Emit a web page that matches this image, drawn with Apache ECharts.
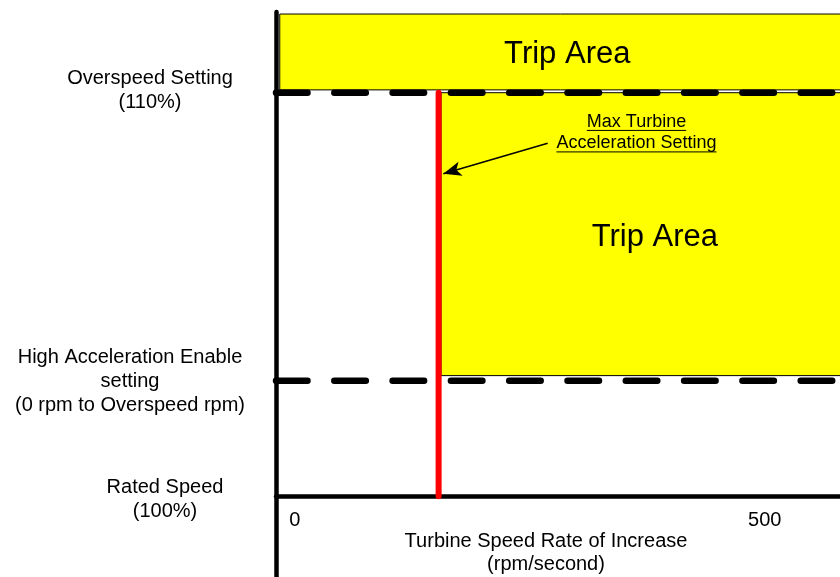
<!DOCTYPE html>
<html><head><meta charset="utf-8">
<script src="https://cdn.jsdelivr.net/npm/echarts@6/dist/echarts.min.js"></script>
<style>html,body{margin:0;padding:0;background:#fff}#c{width:840px;height:577px}</style>
</head><body><div id="c"></div>
<script>
const FONT = '"Liberation Sans", Arial, Helvetica, sans-serif';

// x: turbine speed rate of increase (rpm/second); y: speed above rated speed (%)
const xRange = [-20, 580];
const yRange = [-2, 12];
const xTickValues = [0, 500];
const speedLevelNames = ['Overspeed Setting\n(110%)', 'High Acceleration Enable\nsetting\n(0 rpm to Overspeed rpm)', 'Rated Speed\n(100%)'];
const speedLevelValues = [10, 2.86, 0];
const dashedLevelValues = [10, 2.86];
const maxAccelSetting = 153;
const tripAreaNames = ['Trip Area', 'Trip Area'];
const tripAreaX = [[-16, 600], [155.5, 600]];
const tripAreaY = [[10.07, 11.95], [2.99, 10]];
const annotationLines = ['Max Turbine', 'Acceleration Setting'];
const annotationAnchor = [363.5, 9.01];
const arrowFrom = [269, 8.75];
const arrowTo = [158, 7.99];

// layout / label placement (styles)
const GRID = {left: 276, right: 0, top: 12, bottom: 0};
const CHART_H = 577;
const levelLabelOffsets = [[-126, -2], [-146, 0.5], [-111, 3.5]];
const tripLabelOffsets = [[-2, 2], [5, 3]];

const measureCtx = document.createElement('canvas').getContext('2d');
function textWidth(t, size) { measureCtx.font = size + 'px ' + FONT; return measureCtx.measureText(t).width; }

const chart = echarts.init(document.getElementById('c'), null, {renderer: 'canvas'});

const gridH = CHART_H - GRID.top - GRID.bottom;
const zeroAxisOffset = -(0 - yRange[0]) / (yRange[1] - yRange[0]) * gridH;

const series = [];

series.push({
  type: 'custom', z: 1, silent: true,
  data: tripAreaX.map((xr, i) => [xr[0], xr[1], tripAreaY[i][0], tripAreaY[i][1]]),
  renderItem: (params, api) => {
    const i = params.dataIndex;
    const p0 = api.coord([api.value(0), api.value(3)]);
    const p1 = api.coord([api.value(1), api.value(2)]);
    const cx = (p0[0] + p1[0]) / 2 + tripLabelOffsets[i][0];
    const cy = (p0[1] + p1[1]) / 2 + tripLabelOffsets[i][1];
    return {
      type: 'group',
      children: [
        {type: 'rect', shape: {x: p0[0], y: p0[1], width: p1[0] - p0[0], height: p1[1] - p0[1]},
          style: {fill: '#ffff00', stroke: '#000', lineWidth: 1}},
        {type: 'text', style: {text: tripAreaNames[i], x: cx, y: cy, fontSize: 31, fontFamily: FONT, fill: '#000', align: 'center', verticalAlign: 'middle'}}
      ]
    };
  }
});

dashedLevelValues.forEach(v => {
  series.push({
    type: 'line', z: 3, silent: true, symbol: 'none',
    data: [[xRange[0], v], [xRange[1], v]],
    lineStyle: {color: '#000', width: 6.5, type: [31.5, 26.8], cap: 'round'}
  });
});

series.push({
  type: 'line', z: 4, silent: true, symbol: 'none',
  data: [[maxAccelSetting, speedLevelValues[0]], [maxAccelSetting, speedLevelValues[2]]],
  lineStyle: {color: '#ff0000', width: 6, cap: 'round'},
  markLine: {
    silent: true, symbol: ['none', 'arrow'], symbolSize: [11, 18],
    lineStyle: {color: '#000', width: 1.5, type: 'solid'},
    label: {show: false},
    data: [[{coord: arrowFrom}, {coord: arrowTo}]]
  }
});

series.push({
  type: 'custom', z: 5, silent: true,
  data: [annotationAnchor],
  renderItem: (params, api) => {
    const p = api.coord([api.value(0), api.value(1)]);
    const fs = 18, lh = 21.5;
    const children = [];
    annotationLines.forEach((t, i) => {
      const cy = p[1] + (i - (annotationLines.length - 1) / 2) * lh;
      const w = textWidth(t, fs);
      children.push({type: 'text', style: {text: t, x: p[0], y: cy, fontSize: fs, fontFamily: FONT, fill: '#000', align: 'center', verticalAlign: 'middle'}});
      children.push({type: 'line', shape: {x1: p[0] - w / 2, y1: cy + 8.5, x2: p[0] + w / 2, y2: cy + 8.5}, style: {stroke: '#000', lineWidth: 1}});
    });
    return {type: 'group', children};
  }
});

series.push({
  type: 'custom', z: 6, silent: true, clip: false,
  data: speedLevelValues.map(v => [xRange[0], v]),
  renderItem: (params, api) => {
    const i = params.dataIndex;
    const p = api.coord([api.value(0), api.value(1)]);
    return {type: 'text', style: {text: speedLevelNames[i], x: p[0] + levelLabelOffsets[i][0], y: p[1] + levelLabelOffsets[i][1],
      fontSize: 20, lineHeight: 24, fontFamily: FONT, fill: '#000', align: 'center', verticalAlign: 'middle'}};
  }
});

chart.setOption({
  animation: false,
  backgroundColor: '#fff',
  grid: Object.assign({containLabel: false, outerBoundsMode: 'none'}, GRID),
  xAxis: [{
    type: 'value', min: xRange[0], max: xRange[1],
    axisLine: {onZero: true, lineStyle: {color: '#000', width: 4.5}},
    axisTick: {show: false}, splitLine: {show: false}, axisLabel: {show: false}
  }, {
    type: 'value', min: xRange[0], max: xRange[1], position: 'bottom', offset: zeroAxisOffset,
    axisLine: {show: false}, axisTick: {show: false}, splitLine: {show: false},
    axisLabel: {customValues: xTickValues, fontSize: 20, fontFamily: FONT, color: '#000', margin: 14},
    name: 'Turbine Speed Rate of Increase\n(rpm/second)', nameLocation: 'middle', nameGap: 34, nameMoveOverlap: false,
    nameTextStyle: {fontSize: 20, lineHeight: 23, fontFamily: FONT, color: '#000', padding: [0, 24, 0, 0]}
  }],
  yAxis: {
    type: 'value', min: yRange[0], max: yRange[1],
    axisLine: {show: true, onZero: false, lineStyle: {color: '#000', width: 4.5}},
    axisTick: {show: false}, splitLine: {show: false}, axisLabel: {show: false}
  },
  series
});
</script>
</body></html>
